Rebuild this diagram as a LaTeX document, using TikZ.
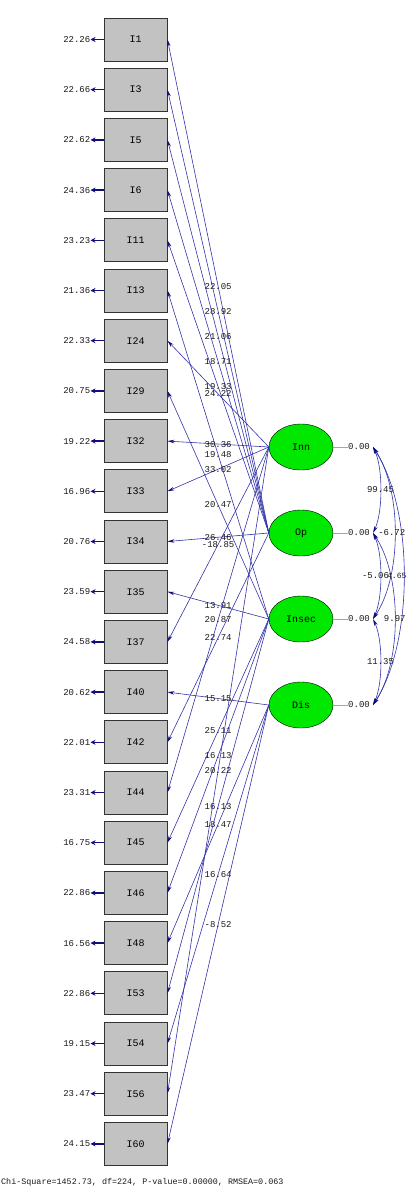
\documentclass[tikz,border=0pt]{standalone}
\usepackage{fontspec}
\setmonofont{Liberation Mono}
\usetikzlibrary{arrows.meta,shapes.geometric}
\definecolor{pathc}{RGB}{50,50,170}
\definecolor{tipc}{RGB}{15,15,120}
\definecolor{boxc}{RGB}{194,194,194}
\definecolor{latc}{RGB}{0,232,0}
\begin{document}
\begin{tikzpicture}[x=1pt,y=-1pt,
  obs/.style={draw=black!80, fill=boxc, minimum width=63pt, minimum height=43pt, inner sep=0pt,
    font=\ttfamily\fontsize{10}{10}\selectfont, line width=0.9pt},
  lat/.style={ellipse, draw=black, fill=latc, minimum width=64pt, minimum height=46pt, inner sep=0pt,
    font=\ttfamily\fontsize{10}{10}\selectfont},
  lbl/.style={font=\ttfamily\fontsize{9}{9}\selectfont, text=black!90, inner sep=0pt},
  load/.style={draw=pathc, line width=0.6pt, -{Stealth[length=7pt,width=3.5pt,color=tipc]}},
  err/.style={draw=tipc, line width=1.5pt, -{Stealth[length=5pt,width=5pt]}},
  cov/.style={draw=pathc, line width=0.6pt,
    {Stealth[length=7pt,width=3.5pt,color=tipc]}-{Stealth[length=7pt,width=3.5pt,color=tipc]}},
  varl/.style={draw=black!35, line width=0.6pt},
]
\useasboundingbox (0,0) rectangle (405,1191);
\clip (0,0) rectangle (405,1191);

% observed variables with error variances
\foreach \n/\e [count=\k from 0] in {1/22.26, 3/22.66, 5/22.62, 6/24.36, 11/23.23, 13/21.36,
  24/22.33, 29/20.75, 32/19.22, 33/16.96, 34/20.76, 35/23.59, 37/24.58, 40/20.62, 42/22.01,
  44/23.31, 45/16.75, 46/22.86, 48/16.56, 53/22.86, 54/19.15, 56/23.47, 60/24.15} {
  \node[obs] (I\n) at (135.5, {39.5+50.2*\k}) {I\n};
  \node[lbl, anchor=east] (e\n) at (90.5, {39.5+50.2*\k}) {\e};
  \draw[err] (I\n.west) -- (e\n.east);
}

% latent variables
\node[lat] (Inn) at (301,447) {Inn};
\node[lat] (Op) at (301,533) {Op};
\node[lat] (Insec) at (301,619) {Insec};
\node[lat] (Dis) at (301,705) {Dis};

% variances
\foreach \l/\y in {Inn/447, Op/533, Insec/619, Dis/705} {
  \node[lbl, anchor=west] (v\l) at (348,\y) {0.00};
  \draw[varl] (\l.east) -- (v\l.west);
  \coordinate (c\l) at (373,\y);
}

% loadings
\foreach \i/\l/\v in {1/Op/22.05, 3/Op/28.92, 5/Op/21.06, 6/Op/18.71, 11/Op/19.33,
  13/Insec/19.48, 24/Inn/24.22, 29/Insec/20.47, 32/Inn/30.36, 33/Inn/33.02, 34/Op/26.46,
  35/Insec/13.91, 37/Inn/-18.85, 40/Dis/15.15, 42/Op/22.74, 44/Inn/20.87, 45/Insec/25.11,
  46/Insec/16.13, 48/Dis/18.47, 53/Insec/16.13, 54/Dis/16.64, 56/Inn/20.22, 60/Dis/-8.52} {
  \draw[load] (\l.west) -- node[lbl, pos=0.5] {\v} (I\i.east);
}

% covariances
\draw[cov] (cInn) .. controls (383,468) and (383,512) .. node[lbl, pos=0.5] {99.45} (cOp);
\draw[cov] (cOp) .. controls (383,554) and (383,598) .. node[lbl, pos=0.5, xshift=-5pt] {-5.06} (cInsec);
\draw[cov] (cInsec) .. controls (383,640) and (383,684) .. node[lbl, pos=0.5] {11.35} (cDis);
\draw[cov] (cInn) .. controls (402,490) and (402,576) .. node[lbl, pos=0.5, xshift=-3pt] {-6.72} (cInsec);
\draw[cov] (cOp) .. controls (402,576) and (402,662) .. node[lbl, pos=0.5] {9.97} (cDis);
\draw[cov] (cInn) .. controls (414,510) and (414,642) .. node[lbl, pos=0.5, xshift=-7pt,
  font=\ttfamily\fontsize{8}{8}\selectfont] {4.65} (cDis);

% fit statistics
\node[lbl, anchor=west, font=\ttfamily\fontsize{8.4}{9}\selectfont] (fit) at (1,1182)
  {Chi-Square=1452.73, df=224, P-value=0.00000, RMSEA=0.063};
\end{tikzpicture}
\end{document}
